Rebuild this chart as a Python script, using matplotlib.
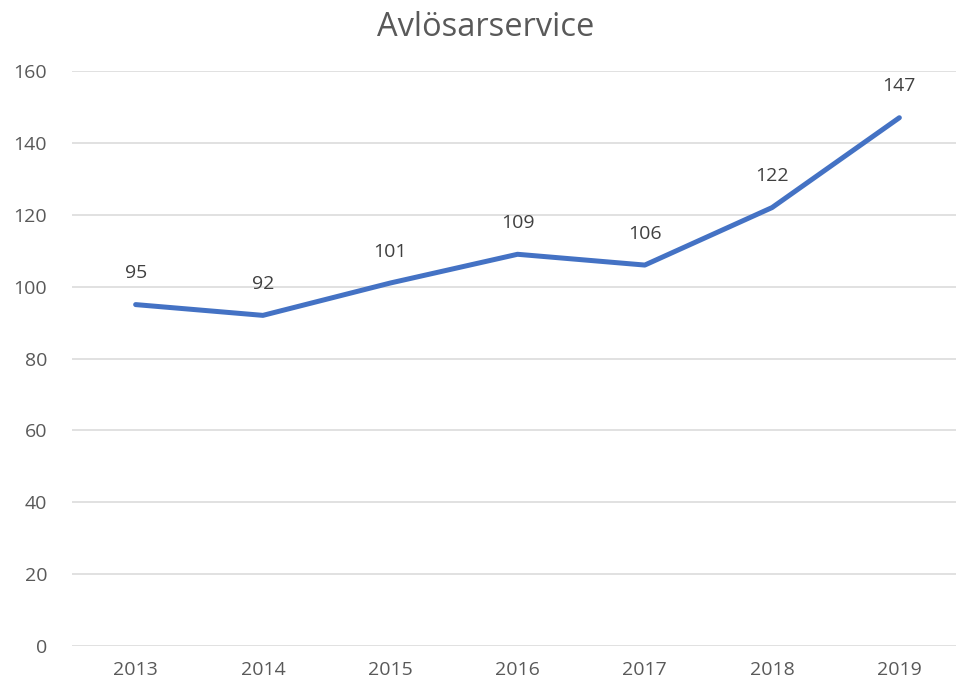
import matplotlib
matplotlib.use("Agg")
import matplotlib.pyplot as plt

years = ["2013", "2014", "2015", "2016", "2017", "2018", "2019"]
values = [95, 92, 101, 109, 106, 122, 147]
yticks = [0, 20, 40, 60, 80, 100, 120, 140, 160]

plt.rcParams['font.family'] = ['Open Sans', 'DejaVu Sans']

W, H = 956, 686
fig = plt.figure(figsize=(W / 100, H / 100), dpi=100)
ax = fig.add_axes([72 / W, 40 / H, 891 / W, 575 / H])

x = list(range(len(years)))
ax.plot(x, values, color="#4472C4", linewidth=3.6, solid_capstyle="round", solid_joinstyle="round", zorder=3)
for xi, v in zip(x, values):
    ax.annotate(str(v), (xi, v), xytext=(0, 16), textcoords="offset points",
                ha="center", va="bottom", fontsize=14, color="#404040")

ax.set_xlim(-0.5, len(years) - 0.5)
ax.set_ylim(0, 160)
ax.set_yticks(yticks)
ax.set_xticks(x)
ax.set_xticklabels(years)
ax.yaxis.grid(True, color="#D9D9D9", linewidth=1.1)
ax.set_axisbelow(True)
for s in ax.spines.values():
    s.set_visible(False)
ax.tick_params(axis="both", length=0, labelsize=14, colors="#595959")
ax.tick_params(axis="y", pad=18)
ax.tick_params(axis="x", pad=11)

fig.text(486 / W, 1 - 27 / H, "Avlösarservice", ha="center", va="center",
         fontsize=23.5, color="#595959")

fig.savefig("out.png", dpi=100)
